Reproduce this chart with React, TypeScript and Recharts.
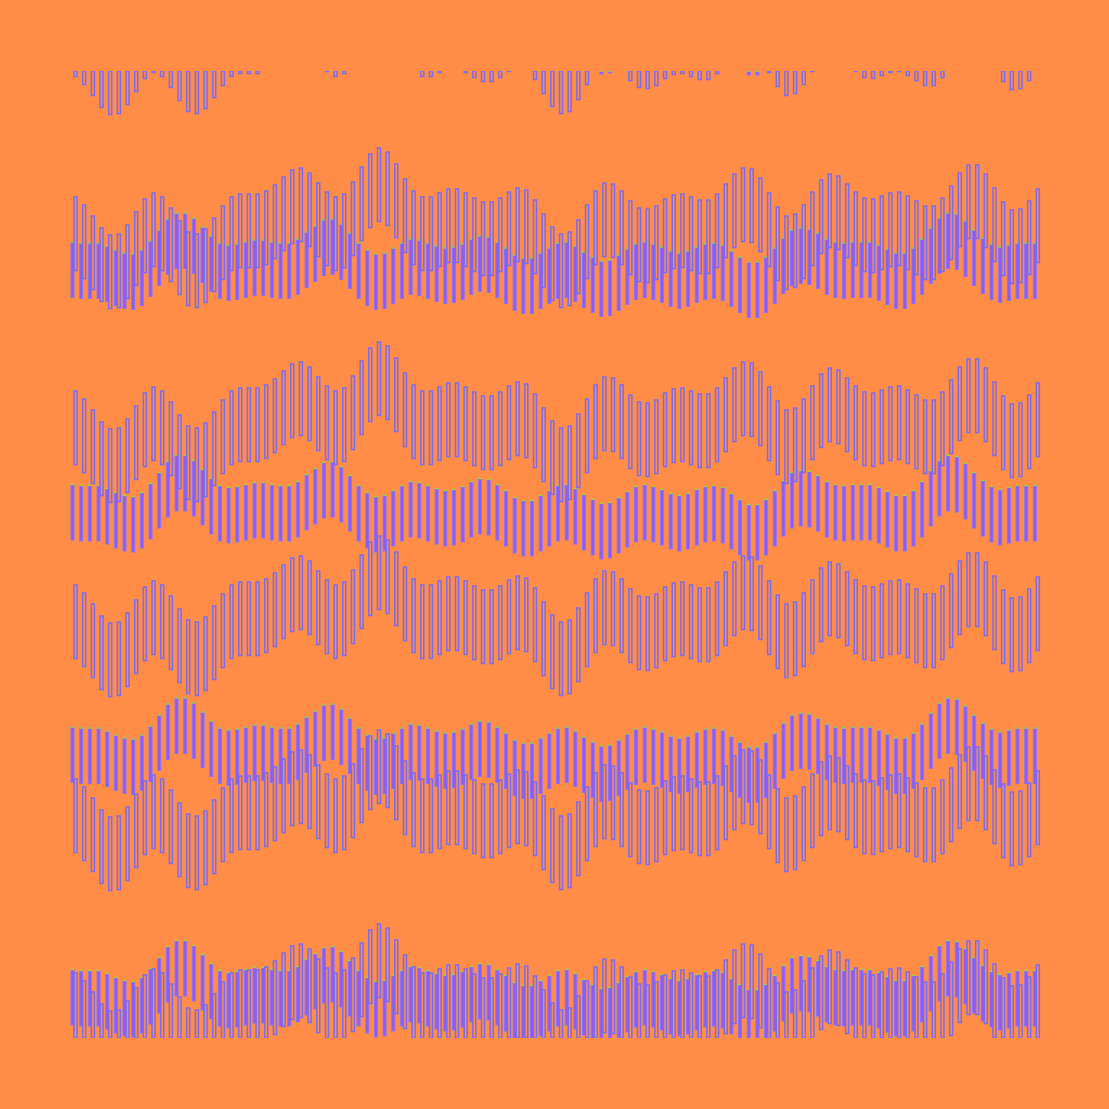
import React from 'react';
import { BarChart, Bar, XAxis, YAxis } from 'recharts';

// top of the second outlined band, measured up from the plot floor
const outlineWave = [
  841, 833, 822, 810, 803, 804, 813, 826, 839, 845,
  841, 830, 817, 806, 804, 809, 820, 832, 841, 844,
  844, 844, 847, 853, 861, 868, 870, 865, 855, 846,
  841, 844, 856, 871, 884, 890, 886, 874, 859, 847,
  841, 841, 845, 849, 849, 845, 840, 836, 836, 840,
  846, 850, 848, 838, 824, 811, 804, 806, 818, 833,
  847, 855, 854, 847, 837, 830, 829, 832, 839, 843,
  844, 841, 838, 838, 844, 854, 864, 870, 869, 860,
  845, 831, 822, 824, 833, 846, 858, 864, 862, 854,
  846, 840, 839, 842, 845, 846, 842, 837, 832, 832,
  840, 852, 865, 873, 873, 864, 850, 836, 828, 829,
  837, 849
];

// top of the second filled band, measured up from the plot floor
const fillWave = [
  796, 795, 795, 795, 792, 788, 785, 784, 788, 797,
  808, 819, 825, 825, 820, 811, 802, 795, 793, 794,
  796, 798, 798, 796, 795, 795, 799, 806, 812, 818,
  819, 814, 805, 795, 788, 784, 785, 790, 795, 799,
  798, 795, 792, 790, 791, 794, 799, 802, 801, 796,
  790, 783, 780, 780, 785, 790, 795, 796, 792, 786,
  781, 777, 778, 783, 789, 794, 796, 794, 791, 787,
  785, 787, 791, 794, 795, 793, 787, 781, 776, 776,
  781, 790, 800, 808, 810, 809, 805, 799, 796, 795,
  796, 796, 796, 793, 789, 785, 785, 790, 799, 810,
  820, 825, 824, 817, 808, 800, 794, 791, 793, 795,
  795, 795
];

const categories = outlineWave.map((_, i) => `${i + 1}`);

// band geometry (value units)
const OUTLINE_HEIGHT = 73.5;
const OUTLINE_STEP = 194;
const OUTLINE_ROWS = 6;
const FILL_HEIGHT = 55.5;
const FILL_STEP = 242.5;
const FILL_ROWS = 5;

const chartData = categories.map((name, i) => {
  const row: Record<string, number | string> = { name };
  row.fillBase = fillWave[i] - (FILL_ROWS - 2) * FILL_STEP - FILL_HEIGHT;
  for (let k = 0; k < FILL_ROWS; k++) {
    row[`fill${k}`] = FILL_HEIGHT;
    row[`fillGap${k}`] = FILL_STEP - FILL_HEIGHT;
  }
  row.outlineBase = outlineWave[i] - (OUTLINE_ROWS - 2) * OUTLINE_STEP - OUTLINE_HEIGHT;
  for (let k = 0; k < OUTLINE_ROWS; k++) {
    row[`outline${k}`] = OUTLINE_HEIGHT;
    row[`outlineGap${k}`] = OUTLINE_STEP - OUTLINE_HEIGHT;
  }
  return row;
});

type Seg = { key: string; kind: 'hidden' | 'fill' | 'outline' };

const buildStack = (prefix: string, rows: number, kind: 'fill' | 'outline'): Seg[] => {
  const segs: Seg[] = [{ key: `${prefix}Base`, kind: 'hidden' }];
  for (let k = 0; k < rows; k++) {
    segs.push({ key: `${prefix}${k}`, kind });
    if (k < rows - 1) segs.push({ key: `${prefix}Gap${k}`, kind: 'hidden' });
  }
  return segs;
};

const fillStack = buildStack('fill', FILL_ROWS, 'fill');
const outlineStack = buildStack('outline', OUTLINE_ROWS, 'outline');

// solid violet bar with a thin lime cap
const FilledBar = (props: any) => {
  const { x, y, width, height } = props;
  if (!width || !height) return <g />;
  return (
    <g>
      <rect x={x} y={y} width={width} height={height} fill="#8a5cf6" stroke="#9271f6" strokeWidth={1} />
      <line x1={x - 0.5} x2={x + width + 0.5} y1={y} y2={y} stroke="#9ed63c" strokeWidth={1.3} />
    </g>
  );
};

const renderSeg = (seg: Seg, stackId: string) => {
  if (seg.kind === 'hidden') {
    return <Bar key={seg.key} dataKey={seg.key} stackId={stackId} fill="none" stroke="none" isAnimationActive={false} />;
  }
  if (seg.kind === 'fill') {
    return <Bar key={seg.key} dataKey={seg.key} stackId={stackId} fill="#8a5cf6" shape={FilledBar} isAnimationActive={false} />;
  }
  return (
    <Bar
      key={seg.key}
      dataKey={seg.key}
      stackId={stackId}
      fill="none"
      stroke="#7a6cf0"
      strokeWidth={1.5}
      isAnimationActive={false}
    />
  );
};

export default function App() {
  return (
    <div style={{ position: 'fixed', left: 0, top: 0, width: 1109, height: 1109, background: '#ff8c47' }}>
      <BarChart
        width={1109}
        height={1109}
        data={chartData}
        margin={{ top: 71, right: 68, bottom: 71, left: 70 }}
        barSize={3}
        barGap={0}
      >
        <XAxis dataKey="name" hide />
        <YAxis hide type="number" domain={[0, 967]} allowDataOverflow />
        {fillStack.map((s) => renderSeg(s, 'fill'))}
        {outlineStack.map((s) => renderSeg(s, 'outline'))}
      </BarChart>
    </div>
  );
}
